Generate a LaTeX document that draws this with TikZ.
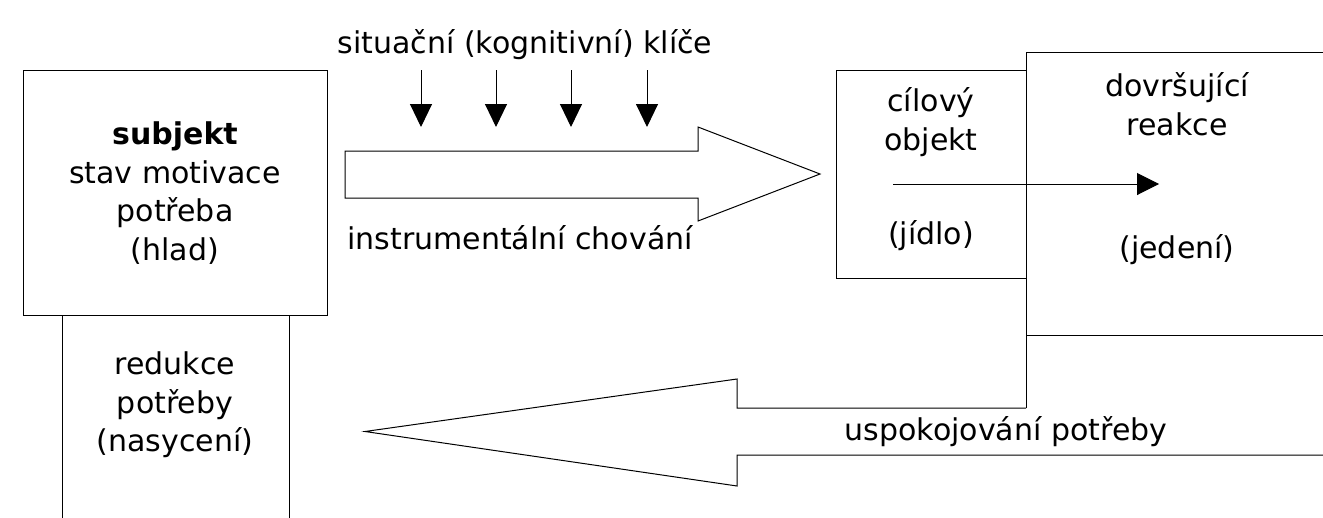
\documentclass[tikz,border=0pt]{standalone}
\usepackage{fontspec}
\setmainfont{DejaVu Sans}
\usetikzlibrary{arrows.meta}
\begin{document}
\begin{tikzpicture}[x=1pt,y=-1pt,
  every node/.style={font=\fontsize{30}{38.5}\selectfont, inner sep=0pt, align=center},
  box/.style={draw=black, line width=1pt, inner sep=0pt},
  bigarrow/.style={draw=black, line width=1pt, fill=white, line join=miter},
  cue/.style={line width=1pt, -{Triangle[length=23pt,width=22pt]}},
  link/.style={line width=1pt, -{Triangle[length=22pt,width=22pt]}}]
\useasboundingbox (0,0) rectangle (1323,517);
% subject box
\node[box, minimum width=304pt, minimum height=245pt] (subj) at (175,192.5) {};
\node (subjtxt) at (175,193) {\textbf{subjekt}\\stav motivace\\potřeba\\(hlad)};
% reduction box (open bottom)
\coordinate (redTL) at (62,315);
\coordinate (redBL) at (62,530);
\coordinate (redTR) at (289,315);
\coordinate (redBR) at (289,530);
\draw[line width=1pt] (redTL) -- (redBL) (redTR) -- (redBR);
\node (redtxt) at (175,405) {redukce\\potřeby\\(nasycení)};
% cues
\node (cues) at (525,45) {situační (kognitivní) klíče};
\foreach \i/\x in {1/421,2/496,3/571,4/647}{
  \coordinate (cs\i) at (\x,70);
  \coordinate (ce\i) at (\x,127);
  \draw[cue] (cs\i) -- (ce\i);
}
% instrumental arrow
\draw[bigarrow] (345,151) -- (698,151) -- (698,127) -- (820,174) -- (698,221) -- (698,198) -- (345,198) -- cycle;
\node (instr) at (520,238) {instrumentální chování};
% goal object box and consummatory box
\draw[line width=1pt] (1340,52) -- (1026,52) -- (1026,408);
\draw[line width=1pt] (1026,335) -- (1340,335);
\node[box, minimum width=190pt, minimum height=208pt] (goal) at (931,174) {};
\node (goaltxt) at (931,122) {cílový\\objekt};
\node (food) at (931,236) {(jídlo)};
\node (cons) at (1177,104) {dovršující\\reakce};
\node (eat) at (1177,250) {(jedení)};
\coordinate (ls) at (893,184);
\coordinate (le) at (1159,184);
\draw[link] (ls) -- (le);
% satisfaction arrow
\draw[bigarrow] (1026,408) -- (737,408) -- (737,379) -- (365,431.5) -- (737,486) -- (737,455) -- (1340,455);
\node (satis) at (1006,432) {uspokojování potřeby};
\end{tikzpicture}
\end{document}
